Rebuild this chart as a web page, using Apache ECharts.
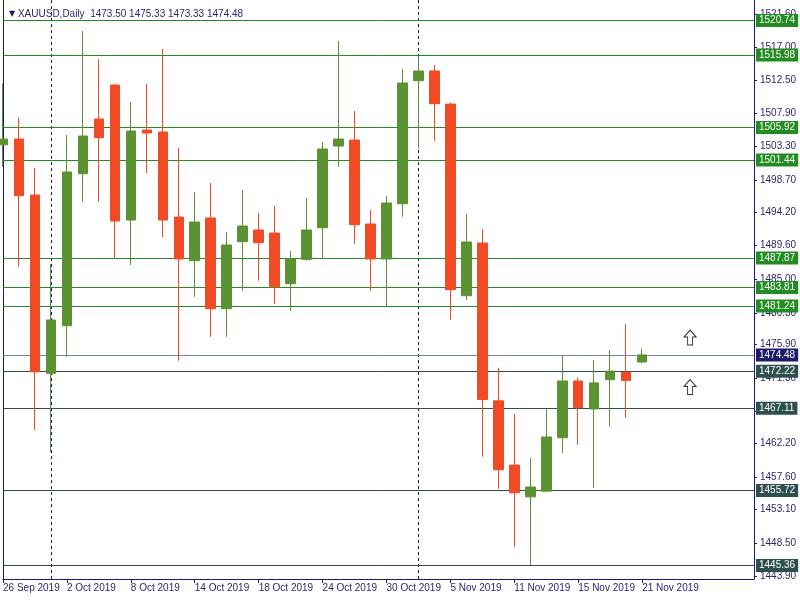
<!DOCTYPE html>
<html>
<head>
<meta charset="utf-8">
<script src="https://cdn.jsdelivr.net/npm/echarts@6/dist/echarts.min.js"></script>
<style>html,body{margin:0;padding:0;background:#fff}#c{width:800px;height:600px}</style>
</head>
<body>
<div id="c"></div>
<script>
const symbolName = 'XAUUSD';
const periodName = 'Daily';

const dates = ['26 Sep 2019','27 Sep 2019','30 Sep 2019','1 Oct 2019','2 Oct 2019','3 Oct 2019','4 Oct 2019','7 Oct 2019','8 Oct 2019','9 Oct 2019','10 Oct 2019','11 Oct 2019','14 Oct 2019','15 Oct 2019','16 Oct 2019','17 Oct 2019','18 Oct 2019','21 Oct 2019','22 Oct 2019','23 Oct 2019','24 Oct 2019','25 Oct 2019','28 Oct 2019','29 Oct 2019','30 Oct 2019','31 Oct 2019','1 Nov 2019','4 Nov 2019','5 Nov 2019','6 Nov 2019','7 Nov 2019','8 Nov 2019','11 Nov 2019','12 Nov 2019','13 Nov 2019','14 Nov 2019','15 Nov 2019','18 Nov 2019','19 Nov 2019','20 Nov 2019','21 Nov 2019'];

const openPrices  = [1503.55,1504.34,1496.60,1471.94,1478.52,1499.54,1507.11,1511.81,1493.14,1505.59,1505.31,1493.55,1487.51,1493.42,1480.87,1490.14,1491.76,1491.34,1484.33,1487.70,1492.07,1503.37,1504.20,1492.59,1487.75,1495.39,1512.41,1513.75,1509.17,1482.67,1489.96,1468.13,1459.24,1454.85,1455.64,1463.03,1470.88,1467.01,1471.06,1472.05,1473.50];
const highPrices  = [1512.05,1507.29,1500.33,1487.05,1504.90,1519.28,1515.41,1511.95,1509.46,1511.95,1516.79,1503.10,1497.01,1498.26,1491.48,1497.29,1494.11,1495.08,1488.85,1496.18,1503.93,1517.90,1508.22,1494.52,1496.46,1514.02,1515.73,1514.58,1509.40,1493.98,1491.88,1472.71,1466.31,1460.22,1466.96,1474.44,1471.36,1473.79,1475.14,1478.74,1475.33];
const lowPrices   = [1500.51,1486.68,1464.10,1461.00,1474.23,1495.67,1495.67,1487.75,1486.92,1499.64,1490.79,1473.68,1482.53,1477.00,1477.00,1483.36,1484.74,1481.56,1480.59,1487.51,1487.92,1500.51,1489.86,1483.36,1481.15,1493.60,1503.00,1504.11,1479.35,1482.06,1460.41,1455.97,1447.92,1445.36,1455.55,1460.93,1462.05,1456.11,1464.58,1465.79,1473.33];
const closePrices = [1504.34,1496.50,1472.16,1479.31,1499.78,1504.76,1504.52,1493.00,1505.45,1505.17,1493.14,1487.75,1492.86,1480.87,1489.68,1492.31,1490.00,1483.91,1487.75,1491.76,1502.96,1504.34,1492.49,1487.75,1495.49,1512.09,1513.75,1509.23,1483.51,1490.10,1468.31,1458.59,1455.41,1456.21,1463.13,1470.88,1467.19,1470.61,1472.24,1470.93,1474.48];

const resistanceLevels = [1520.74,1515.98,1505.92,1501.44,1487.87,1483.81,1481.24];
const bidPrice = 1474.48;
const supportLevels = [1472.22,1467.11,1455.72,1445.36];
const monthStarts = ['1 Oct 2019','1 Nov 2019'];
const yTickValues = [1521.60,1517.00,1512.50,1507.90,1503.30,1498.70,1494.20,1489.60,1485.00,1480.30,1475.90,1471.30,1466.70,1462.20,1457.60,1453.10,1448.50,1443.90];
const arrowPoints = [[43,1476.89],[43,1470.04]];

const PAD = 7;
const categories = dates.concat(Array.from({length: PAD}, (_, k) => ' '.repeat(k + 1)));

const FONT = '"Liberation Sans", Arial, sans-serif';
const FS = 10;
const NAVY = '#1c1a6c';
const TXT = '#2a1f6e';
const UP = '#5b9232';
const DOWN = '#f14b25';
const LEVEL_GREEN = '#228b22';
const DARK = '#2f4f4f';
const BIDLINE = '#778899';
const BIDBOX = '#1c1c6b';

const last = dates.length - 1;
const fmt = v => v.toFixed(2);

function levelItem(v, lineColor, boxColor) {
  return {
    yAxis: v,
    lineStyle: {color: lineColor, width: 1, type: 'solid'},
    label: {
      show: true, position: 'end', distance: 2, formatter: fmt(v),
      color: '#ffffff', backgroundColor: boxColor, padding: [1, 3, 0, 3],
      fontSize: FS, fontFamily: FONT, lineHeight: 12
    }
  };
}

const markData = []
  .concat(monthStarts.map(d => ({xAxis: d, lineStyle: {color: NAVY, width: 1, type: [3, 3]}, label: {show: false}})))
  .concat(resistanceLevels.map(v => levelItem(v, LEVEL_GREEN, LEVEL_GREEN)))
  .concat([levelItem(bidPrice, BIDLINE, BIDBOX)])
  .concat(supportLevels.map(v => levelItem(v, DARK, DARK)));

const tickFilter = (i) => i % 4 === 0 && i < dates.length;

const chart = echarts.init(document.getElementById('c'), null, {renderer: 'canvas'});
chart.setOption({
  animation: false,
  backgroundColor: '#ffffff',
  title: {
    text: '{t|▼} ' + symbolName + ',' + periodName + '  ' + [openPrices[last], highPrices[last], lowPrices[last], closePrices[last]].map(fmt).join(' '),
    left: 4, top: 4,
    textStyle: {
      fontSize: FS, fontWeight: 'normal', color: TXT, fontFamily: FONT,
      rich: {t: {fontSize: 8, color: NAVY, fontFamily: 'DejaVu Sans'}}
    }
  },
  grid: {left: 3, right: 46, top: 0, bottom: 21, outerBoundsMode: 'none', containLabel: false},
  xAxis: {
    type: 'category', data: categories, boundaryGap: false,
    axisLine: {show: true, lineStyle: {color: NAVY, width: 1}},
    axisTick: {show: true, length: 4, interval: tickFilter, lineStyle: {color: NAVY}},
    axisLabel: {interval: tickFilter, align: 'left', margin: 4, color: TXT, fontSize: FS, fontFamily: FONT},
    splitLine: {show: false}
  },
  yAxis: [{
    type: 'value', position: 'right', min: 1443.49, max: 1523.57,
    axisLine: {show: true, lineStyle: {color: NAVY, width: 1}},
    axisTick: {show: true, length: 3, customValues: yTickValues, lineStyle: {color: NAVY}},
    axisLabel: {customValues: yTickValues, formatter: v => fmt(v), margin: 6, color: TXT, fontSize: FS, fontFamily: FONT},
    splitLine: {show: false}
  }, {
    type: 'value', position: 'left', min: 1443.49, max: 1523.57,
    axisLine: {show: true, lineStyle: {color: NAVY, width: 1}},
    axisTick: {show: false}, axisLabel: {show: false}, splitLine: {show: false}
  }],
  series: [{
    type: 'line', data: [], z: 3, silent: true,
    markLine: {silent: true, symbol: ['none', 'none'], animation: false, data: markData}
  }, {
    type: 'candlestick', z: 10, clip: true, barWidth: 10,
    data: dates.map((d, i) => [openPrices[i], closePrices[i], lowPrices[i], highPrices[i]]),
    itemStyle: {color: UP, color0: DOWN, borderColor: UP, borderColor0: DOWN, borderWidth: 1}
  }, {
    type: 'scatter', z: 11, silent: true,
    data: arrowPoints,
    symbol: 'path://M6,0 L12,7 L8.5,7 L8.5,15 L3.5,15 L3.5,7 L0,7 Z',
    symbolSize: [12, 15],
    itemStyle: {color: '#ffffff', borderColor: '#000000', borderWidth: 1}
  }]
});
</script>
</body>
</html>
